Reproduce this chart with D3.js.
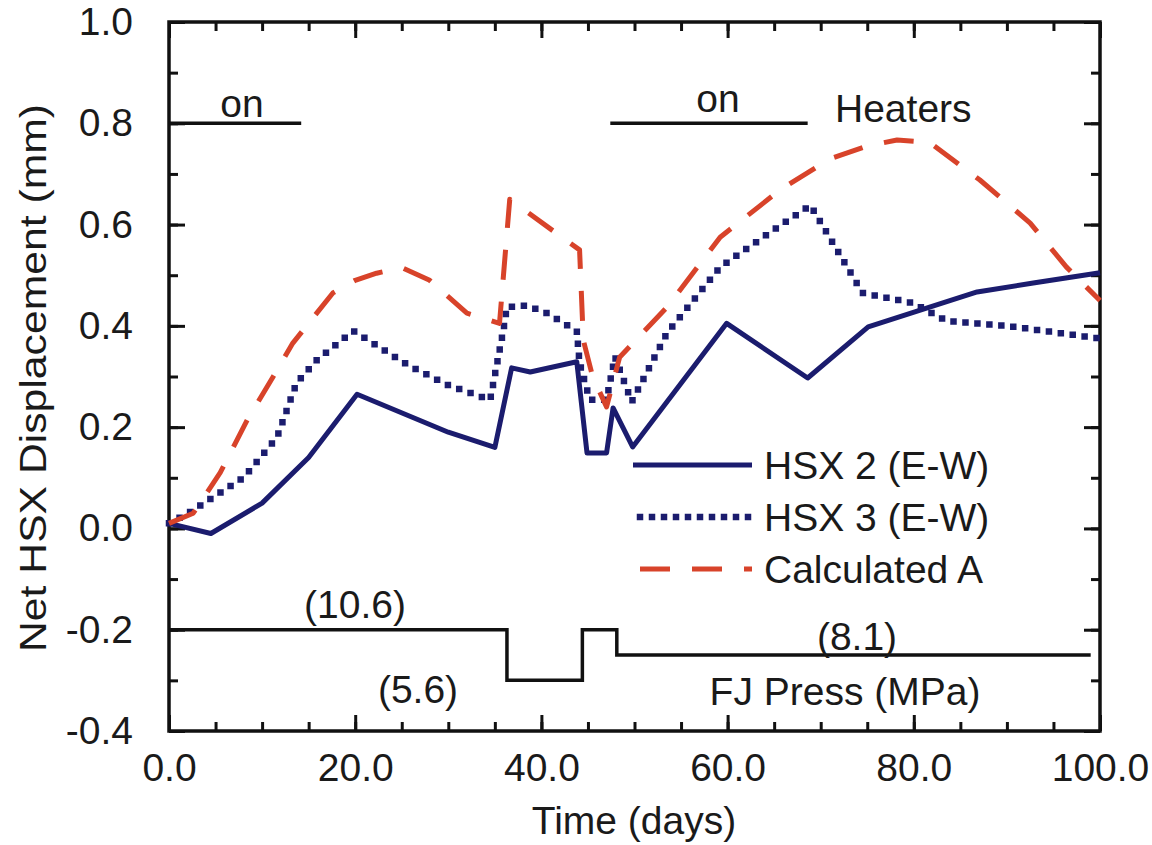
<!DOCTYPE html>
<html>
<head>
<meta charset="utf-8">
<script src="https://cdn.jsdelivr.net/npm/d3@7"></script>
<style>
  body { margin: 0; background: #fff; }
  svg text { font-family: "Liberation Sans", Arial, sans-serif; fill: #1a1a1a; }
</style>
</head>
<body>
<svg id="chart" width="1152" height="845"></svg>
<script>
// measured series: [day, displacement mm]
var hsx2 = [[0,0.01],[4.5,-0.01],[10,0.05],[15,0.14],[20.2,0.265],[30,0.19],[35,0.16],
  [36.8,0.317],[38.8,0.309],[43.8,0.329],[44.9,0.149],[47,0.149],[47.7,0.238],[49.8,0.161],
  [59.9,0.405],[68.6,0.297],[75.1,0.398],[81.7,0.437],[86.8,0.467],[93,0.485],[100,0.505]];

var hsx3 = [[0,0.01],[2.6,0.036],[8,0.10],[11.6,0.18],[13.7,0.287],[15.9,0.333],[19.8,0.39],
  [25.9,0.32],[30,0.283],[34.5,0.254],[35.9,0.39],[36.3,0.437],[38.5,0.44],[40.6,0.425],
  [43.8,0.39],[44.1,0.327],[45.2,0.254],[47,0.254],[47.9,0.339],[49.7,0.25],[53.5,0.386],
  [59.2,0.516],[65,0.59],[68.9,0.638],[74.5,0.465],[79.9,0.445],[83.5,0.41],[90,0.40],[100,0.375]];

var calcA = [[0,0.01],[2.6,0.03],[5.5,0.11],[8.4,0.214],[11.2,0.30],[13.3,0.366],[17.6,0.465],
  [20,0.49],[22.3,0.504],[25,0.515],[28,0.49],[32,0.425],[35.5,0.405],[36.6,0.65],[41.6,0.583],
  [44.1,0.55],[44.5,0.372],[45.5,0.30],[47,0.24],[48.4,0.338],[53.5,0.437],[59.2,0.575],
  [65.6,0.668],[71,0.73],[75,0.755],[78.2,0.767],[81.7,0.762],[87.1,0.688],[92.5,0.603],
  [96.4,0.516],[100,0.45]];

// heater "on" periods (days) drawn at y = 0.8
var heaterPeriods = [[0,14.2],[47.4,68.6]];
var heaterLevel = 0.8;

// FJ pressure steps: [day, plotted level]
var fjPress = [[0,-0.2],[36.3,-0.3],[44.4,-0.2],[48.1,-0.25],[99,-0.25]];

var xMajor = [0,20,40,60,80,100];
var yMajor = [-0.4,-0.2,0,0.2,0.4,0.6,0.8,1.0];

var seriesNames = ["HSX 2 (E-W)", "HSX 3 (E-W)", "Calculated A"];
var seriesColors = ["#1b1c6e", "#1b1c6e", "#d8432a"];
var seriesDash = [null, "0 12", "30 22"];

var svg = d3.select("#chart");
var plotLeft = 169, plotRight = 1100, plotTop = 22, plotBottom = 731;

var x = d3.scaleLinear().domain([0,100]).range([plotLeft, plotRight]);
var y = d3.scaleLinear().domain([-0.4,1.0]).range([plotBottom, plotTop]);

var line = d3.line().x(function(d) { return x(d[0]); }).y(function(d) { return y(d[1]); });

// plain hyphen for negatives, like the original figure
var fmt = function(v) { return d3.format(".1f")(v).replace("\u2212", "-"); };

// axes: labelled majors and minor ticks, all pointing inward
function addAxis(axis, tr, labels) {
  var g = svg.append("g").attr("transform", tr).call(axis);
  g.select(".domain").remove();
  g.selectAll(".tick line").attr("stroke", "#111").attr("stroke-width", 3);
  if (!labels) g.selectAll("text").remove();
  else g.selectAll("text").style("font-size", "39px").attr("fill", "#1a1a1a");
  return g;
}
var xMinor = d3.range(0, 101, 5);
var yMinor = d3.range(-4, 11).map(function(v) { return v / 10; });

addAxis(d3.axisBottom(x).tickValues(xMinor).tickSizeInner(-9).tickSizeOuter(0), "translate(0," + plotBottom + ")", false);
addAxis(d3.axisTop(x).tickValues(xMinor).tickSizeInner(-9).tickSizeOuter(0), "translate(0," + plotTop + ")", false);
addAxis(d3.axisLeft(y).tickValues(yMinor).tickSizeInner(-9).tickSizeOuter(0), "translate(" + plotLeft + ",0)", false);
addAxis(d3.axisRight(y).tickValues(yMinor).tickSizeInner(-9).tickSizeOuter(0), "translate(" + plotRight + ",0)", false);

addAxis(d3.axisBottom(x).tickValues(xMajor).tickFormat(fmt).tickSizeInner(-16).tickSizeOuter(0).tickPadding(22),
  "translate(0," + plotBottom + ")", true);
addAxis(d3.axisTop(x).tickValues(xMajor).tickSizeInner(-16).tickSizeOuter(0), "translate(0," + plotTop + ")", false);
addAxis(d3.axisLeft(y).tickValues(yMajor).tickFormat(fmt).tickSizeInner(-16).tickSizeOuter(0).tickPadding(36),
  "translate(" + plotLeft + ",0)", true);
addAxis(d3.axisRight(y).tickValues(yMajor).tickSizeInner(-16).tickSizeOuter(0), "translate(" + plotRight + ",0)", false);

svg.append("rect")
  .attr("x", plotLeft).attr("y", plotTop)
  .attr("width", plotRight - plotLeft).attr("height", plotBottom - plotTop)
  .attr("fill", "none").attr("stroke", "#111").attr("stroke-width", 3.5);

// heaters
svg.selectAll(".heater").data(heaterPeriods).join("line")
  .attr("class", "heater")
  .attr("x1", function(d) { return x(d[0]); })
  .attr("x2", function(d) { return x(d[1]); })
  .attr("y1", y(heaterLevel)).attr("y2", y(heaterLevel))
  .attr("stroke", "#111").attr("stroke-width", 3.5);

svg.append("text").attr("x", 242).attr("y", 117).attr("text-anchor", "middle").style("font-size", "39px").text("on");
svg.append("text").attr("x", 718).attr("y", 112).attr("text-anchor", "middle").style("font-size", "39px").text("on");
svg.append("text").attr("x", 835).attr("y", 122).style("font-size", "39px").text("Heaters");

// FJ pressure
svg.append("path")
  .datum(fjPress)
  .attr("d", d3.line().curve(d3.curveStepAfter).x(function(d) { return x(d[0]); }).y(function(d) { return y(d[1]); }))
  .attr("fill", "none").attr("stroke", "#111").attr("stroke-width", 3.5);

svg.append("text").attr("x", 355).attr("y", 618).attr("text-anchor", "middle").style("font-size", "39px").text("(10.6)");
svg.append("text").attr("x", 418).attr("y", 703).attr("text-anchor", "middle").style("font-size", "39px").text("(5.6)");
svg.append("text").attr("x", 857).attr("y", 650).attr("text-anchor", "middle").style("font-size", "39px").text("(8.1)");
svg.append("text").attr("x", 845).attr("y", 705).attr("text-anchor", "middle").style("font-size", "39px").text("FJ Press (MPa)");

// data series
var allSeries = [hsx2, hsx3, calcA];
allSeries.forEach(function(s, i) {
  svg.append("path")
    .datum(s)
    .attr("d", line)
    .attr("fill", "none")
    .attr("stroke", seriesColors[i])
    .attr("stroke-width", i === 1 ? 6.5 : 5)
    .attr("stroke-linecap", i === 1 ? "square" : "butt")
    .attr("stroke-linejoin", "round")
    .attr("stroke-dasharray", seriesDash[i]);
});

// legend
var legend = svg.selectAll(".legend").data(seriesNames).join("g")
  .attr("class", "legend")
  .attr("transform", function(d, i) { return "translate(0," + (i * 52) + ")"; });

legend.append("line")
  .attr("x1", function(d, i) { return i === 0 ? 633 : 640; })
  .attr("x2", 752)
  .attr("y1", 465).attr("y2", 465)
  .attr("stroke", function(d, i) { return seriesColors[i]; })
  .attr("stroke-width", function(d, i) { return i === 1 ? 6.5 : 5; })
  .attr("stroke-linecap", function(d, i) { return i === 1 ? "square" : "butt"; })
  .attr("stroke-dasharray", function(d, i) { return seriesDash[i]; });

legend.append("text")
  .attr("x", 764).attr("y", 479)
  .style("font-size", "39px")
  .text(function(d) { return d; });

// axis titles
svg.append("text")
  .attr("x", 634).attr("y", 834)
  .attr("text-anchor", "middle")
  .style("font-size", "39px")
  .text("Time (days)");

svg.append("text")
  .attr("transform", "translate(46,378) rotate(-90)")
  .attr("text-anchor", "middle")
  .attr("textLength", 548)
  .attr("lengthAdjust", "spacingAndGlyphs")
  .style("font-size", "37px")
  .text("Net HSX Displacement (mm)");
</script>
</body>
</html>
